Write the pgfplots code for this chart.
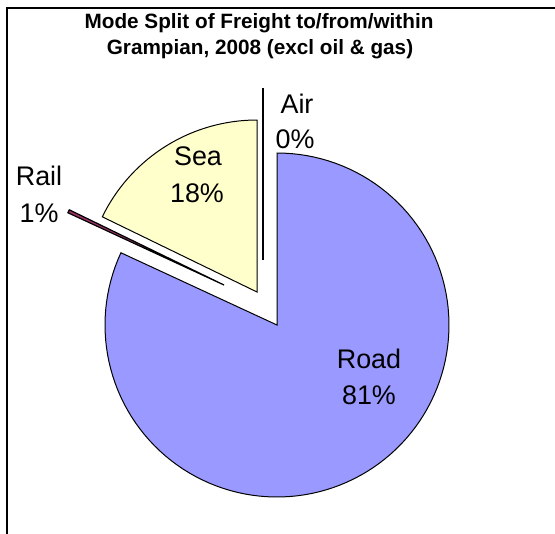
\documentclass[border=0pt]{standalone}
\usepackage{fontspec}
\setmainfont{Liberation Sans}
\usepackage{pgfplots}
\pgfplotsset{compat=1.18}
\definecolor{roadc}{HTML}{9999FF}
\definecolor{seac}{HTML}{FFFFCC}
\definecolor{railc}{HTML}{993366}
% shares (percent) as drawn
\def\road{81.9}
\def\rail{0.3}
\def\sea{17.8}
\def\air{0.0}
\pgfmathsetmacro{\aA}{90}
\pgfmathsetmacro{\aB}{90-3.6*\road}
\pgfmathsetmacro{\aC}{\aB-3.6*\rail}
\pgfmathsetmacro{\aD}{\aC-3.6*\sea}
\begin{document}
\begin{tikzpicture}
\useasboundingbox (0,0) rectangle (555bp,534bp);
\begin{axis}[at={(0,0)}, anchor=south west,
  x=1bp, y=1bp, y dir=reverse,
  xmin=0, xmax=555, ymin=0, ymax=534,
  hide axis, clip=false]
% frame
\addplot[black, line width=1.2bp] coordinates {(7,540) (7,8) (560,8)};
% Road (exploded vertex 277,325)
\addplot[fill=roadc, draw=black, line width=1bp, domain=\aB:\aA, samples=120, variable=\t]
  ({277+172*cos(\t)}, {325-172*sin(\t)}) -- (axis cs:277,325) -- cycle;
% Rail
\addplot[fill=railc, draw=black, line width=1.2bp, domain=\aC:\aB, samples=5, variable=\t]
  ({224+172*cos(\t)}, {285-172*sin(\t)}) -- (axis cs:224,285) -- cycle;
% Sea
\addplot[fill=seac, draw=black, line width=1bp, domain=\aD:\aC, samples=60, variable=\t]
  ({257+172*cos(\t)}, {292-172*sin(\t)}) -- (axis cs:257,292) -- cycle;
% Air (0%)
\addplot[black, line width=1.3bp] coordinates {(263,260) (263,88)};
% labels
\node[anchor=base, font=\bfseries\fontsize{20.8}{24}\selectfont] at (axis cs:259,28.5) {Mode Split of Freight to/from/within};
\node[anchor=base, font=\bfseries\fontsize{20.8}{24}\selectfont] at (axis cs:260,54) {Grampian, 2008 (excl oil \& gas)};
\node[anchor=base, font=\fontsize{27}{30}\selectfont] at (axis cs:369,368) {Road};
\node[anchor=base, font=\fontsize{27}{30}\selectfont] at (axis cs:369,404) {81\%};
\node[anchor=base, font=\fontsize{27}{30}\selectfont] at (axis cs:198,165) {Sea};
\node[anchor=base, font=\fontsize{27}{30}\selectfont] at (axis cs:197,202) {18\%};
\node[anchor=base, font=\fontsize{27}{30}\selectfont] at (axis cs:39,185) {Rail};
\node[anchor=base, font=\fontsize{27}{30}\selectfont] at (axis cs:39,222) {1\%};
\node[anchor=base, font=\fontsize{27}{30}\selectfont] at (axis cs:297,113) {Air};
\node[anchor=base, font=\fontsize{27}{30}\selectfont] at (axis cs:295,148) {0\%};
\end{axis}
\end{tikzpicture}
\end{document}
